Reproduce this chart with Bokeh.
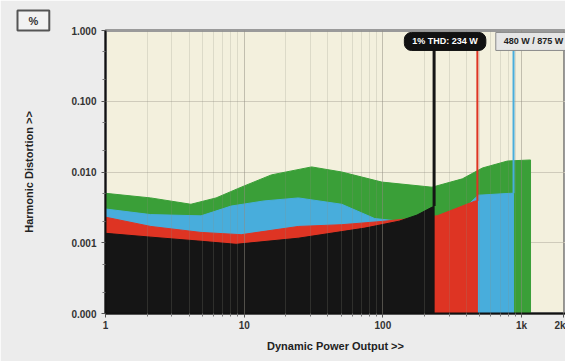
from bokeh.plotting import figure
from bokeh.models import FixedTicker, Label, Range1d, PrintfTickFormatter, CustomJSTickFormatter, Title
from bokeh.embed import file_html
from bokeh.resources import INLINE

# ---- data ----
green_p = [1, 2.12, 4.13, 6.27, 9.51, 15.7, 30.6, 50.5, 98.3, 226, 374, 522, 792, 1160]
green_v = [0.0050, 0.0043, 0.0035, 0.0043, 0.0061, 0.0091, 0.0118, 0.0100, 0.0072, 0.0061, 0.0080, 0.0114, 0.0143, 0.0148]

blue_p = [1, 2.12, 4.88, 8.05, 13.9, 24.6, 50.5, 87.2, 137, 268, 374, 488, 832, 875]
blue_v = [0.0030, 0.0025, 0.0024, 0.0033, 0.0039, 0.0043, 0.0035, 0.0022, 0.0020, 0.0021, 0.0029, 0.0047, 0.0050, 0.0050]

red_p = [1, 2.12, 4.88, 9.51, 24.6, 50.5, 98.3, 246, 344, 464, 480]
red_v = [0.0023, 0.0017, 0.0014, 0.0013, 0.0017, 0.0018, 0.0020, 0.0024, 0.0031, 0.0039, 0.0039]

black_p = [1, 2.12, 4.88, 8.75, 24.6, 74.1, 131, 176, 234]
black_v = [0.00136, 0.00120, 0.00105, 0.00095, 0.00116, 0.00161, 0.00202, 0.00246, 0.0033]

spike_top = 0.7          # curves shoot up at clipping
floor_v = 1e-4

y_ticks = [1e-4, 1e-3, 1e-2, 1e-1, 1.0]
x_ticks = [1, 10, 100, 1000, 2000]
x_minor = [m * d for d in (1, 10, 100) for m in range(2, 10)]
y_minor = [m * d for d in (1e-4, 1e-3, 1e-2, 1e-1) for m in (2, 5)]

label_black = "1% THD: 234 W"
label_rest = "480 W / 875 W"

# ---- figure ----
p = figure(width=565, height=361, x_axis_type="log", y_axis_type="log",
           x_range=Range1d(1, 2073), y_range=Range1d(1e-4, 1.0),
           output_backend="svg", toolbar_location=None,
           min_border_left=105, min_border_right=0, min_border_top=30, min_border_bottom=48)
p.background_fill_color = "#f3f0dd"
p.border_fill_color = "#ececec"
p.outline_line_color = "#9a9a9a"
p.outline_line_width = 3

FONT = "Liberation Sans"

for ax in (p.xaxis[0], p.yaxis[0]):
    ax.axis_line_color = "#111111"
    ax.axis_line_width = 2
    ax.major_tick_line_color = "#555555"
    ax.minor_tick_line_color = "#777777"
    ax.major_tick_in = 0
    ax.major_tick_out = 4
    ax.minor_tick_in = 0
    ax.minor_tick_out = 3
    ax.major_label_text_font = FONT
    ax.major_label_text_font_size = "10px"
    ax.major_label_text_font_style = "bold"
    ax.major_label_text_color = "#333333"

p.yaxis[0].ticker = FixedTicker(ticks=y_ticks, minor_ticks=y_minor)
p.yaxis[0].formatter = PrintfTickFormatter(format="%.3f")
p.yaxis[0].major_label_standoff = 5
p.yaxis[0].axis_label = "Harmonic Distortion >>"
p.yaxis[0].axis_label_standoff = 33
p.yaxis[0].axis_label_text_font = FONT
p.yaxis[0].axis_label_text_font_size = "11px"
p.yaxis[0].axis_label_text_font_style = "bold"
p.yaxis[0].axis_label_text_color = "#222222"

p.xaxis[0].ticker = FixedTicker(ticks=x_ticks, minor_ticks=x_minor)
p.xaxis[0].formatter = CustomJSTickFormatter(code="return tick >= 1000 ? (tick/1000) + 'k' : String(Math.round(tick));")
p.xaxis[0].major_label_standoff = 2

p.xgrid.grid_line_color = "#8f8c80"
p.xgrid.grid_line_alpha = 0.5
p.xgrid.minor_grid_line_color = "#8f8c80"
p.xgrid.minor_grid_line_alpha = 0.22
p.xgrid.level = "guide"
p.ygrid.grid_line_color = "#cfcbbb"
p.ygrid.minor_grid_line_color = None

series = [
    (green_p, green_v, "#3a9f38", None),
    (blue_p, blue_v, "#48addc", 2),
    (red_p, red_v, "#de3423", 2),
    (black_p, black_v, "#151515", 3),
]
for xs, ys, col, spike_w in series:
    px = list(xs) + [xs[-1], xs[0]]
    py = list(ys) + [floor_v, floor_v]
    p.patch(px, py, fill_color=col, line_color=col, line_width=1)
    if spike_w:
        p.line([xs[-1], xs[-1]], [ys[-1], spike_top], line_color=col, line_width=spike_w)

# clipping labels (pills)
p.add_layout(Label(x=black_p[-1], y=0.70, x_offset=11, text=label_black,
                   text_font=FONT, text_font_size="9px", text_font_style="bold",
                   text_color="white", text_align="center", text_baseline="middle",
                   background_fill_color="#111111", border_line_color="#111111",
                   padding=(8, 4), border_radius=7))
p.add_layout(Label(x=blue_p[-1], y=0.70, x_offset=20, text=label_rest,
                   text_font=FONT, text_font_size="9px", text_font_style="bold",
                   text_color="#222222", text_align="center", text_baseline="middle",
                   background_fill_color="#e6e6e6", border_line_color="#8a8a8a",
                   padding=(8, 4)))

# x title and unit box as layout titles
p.add_layout(Title(text="Dynamic Power Output >>", align="center", offset=-35,
                   text_font=FONT, text_font_size="11px", text_font_style="bold",
                   text_color="#222222", standoff=9), "below")
p.add_layout(Title(text="%", align="left", offset=-88,
                   text_font=FONT, text_font_size="11px", text_font_style="bold",
                   text_color="#333333", background_fill_color="#f2f2f2",
                   border_line_color="#555555", border_line_width=2, padding=(11, 4),
                   standoff=0), "above")

open("out.html", "w").write(file_html(p, INLINE))
